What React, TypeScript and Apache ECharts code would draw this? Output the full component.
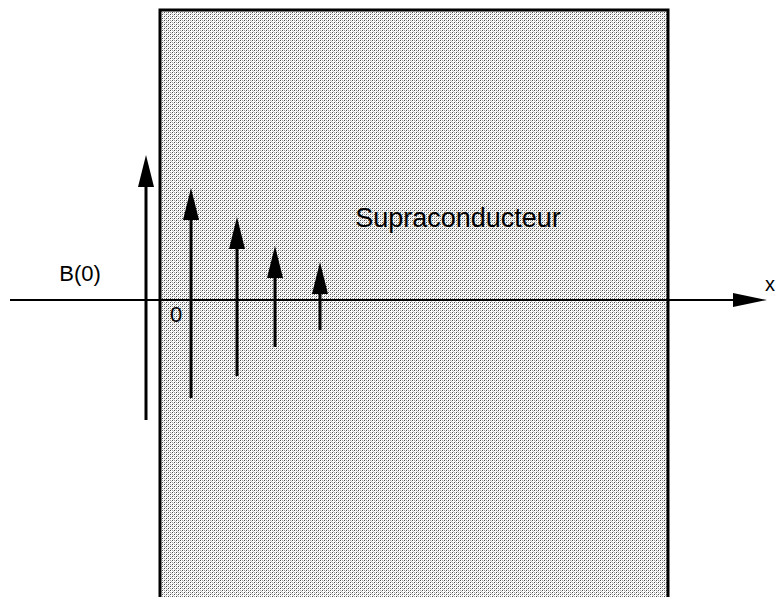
import React, { useEffect, useRef } from "react";
import * as echarts from "echarts";

// Field arrows: position along x (unit = depth) and extent above / below the axis
const arrowX = [-1.4, 3.1, 7.7, 11.5, 16.0];
const arrowTop = [14.5, 11.2, 8.3, 5.4, 3.8];
const arrowBottom = [-12.0, -9.8, -7.6, -4.7, -3.0];

// Superconductor block: [left, top, right, bottom]
const blockBounds = [0, 29, 50.8, -31];

// Horizontal x axis: [start, end, y]
const axisLine = [-15, 60.7, 0];

// Labels: text, x, y, align
const labelTexts = ["B(0)", "0", "Supraconducteur", "x"];
const labelX = [-8.0, 1.6, 29.8, 61.5];
const labelY = [2.7, -1.4, 8.2, 1.6];
const labelSizes = [22, 22, 27, 20];
const labelAlign = ["center", "center", "center", "right"];

function makePattern(): HTMLCanvasElement {
  const c = document.createElement("canvas");
  c.width = 4;
  c.height = 4;
  const ctx = c.getContext("2d")!;
  ctx.fillStyle = "#ffffff";
  ctx.fillRect(0, 0, 4, 4);
  const px = (x: number, y: number, col: string) => {
    ctx.fillStyle = col;
    ctx.fillRect(x, y, 1, 1);
  };
  px(0, 0, "#4a4a4a");
  px(2, 2, "#4a4a4a");
  px(2, 0, "#a0a0a0");
  px(0, 2, "#a0a0a0");
  px(3, 1, "#c4c4c4");
  px(1, 3, "#c4c4c4");
  return c;
}

export default function App() {
  const ref = useRef<HTMLDivElement>(null);
  useEffect(() => {
    if (!ref.current) return;
    const chart = echarts.init(ref.current, null, { renderer: "svg" });
    const pattern = makePattern();
    const option: any = {
      animation: false,
      backgroundColor: "#ffffff",
      grid: { left: 0, right: 0, top: 0, bottom: 0 },
      xAxis: { type: "value", min: -16, max: 61.6, show: false },
      yAxis: { type: "value", min: -29.7, max: 30, show: false },
      series: [
        {
          type: "custom",
          z: 1,
          data: [blockBounds],
          renderItem: (params: any, api: any) => {
            const p1 = api.coord([api.value(0), api.value(1)]);
            const p2 = api.coord([api.value(2), api.value(3)]);
            return {
              type: "rect",
              shape: { x: p1[0], y: p1[1], width: p2[0] - p1[0], height: p2[1] - p1[1] },
              style: {
                fill: { image: pattern, repeat: "repeat" },
                stroke: "#000",
                lineWidth: 3,
              },
            };
          },
        },
        {
          type: "custom",
          z: 2,
          data: [axisLine],
          renderItem: (params: any, api: any) => {
            const a = api.coord([api.value(0), api.value(2)]);
            const b = api.coord([api.value(1), api.value(2)]);
            return {
              type: "group",
              children: [
                {
                  type: "line",
                  shape: { x1: a[0], y1: a[1], x2: b[0] - 20, y2: b[1] },
                  style: { stroke: "#000", lineWidth: 2 },
                },
                {
                  type: "polygon",
                  shape: { points: [[b[0], b[1]], [b[0] - 34, b[1] - 7], [b[0] - 34, b[1] + 7]] },
                  style: { fill: "#000" },
                },
              ],
            };
          },
        },
        {
          type: "custom",
          z: 3,
          data: arrowX.map((x, i) => [x, arrowTop[i], arrowBottom[i]]),
          renderItem: (params: any, api: any) => {
            const t = api.coord([api.value(0), api.value(1)]);
            const b = api.coord([api.value(0), api.value(2)]);
            return {
              type: "group",
              children: [
                {
                  type: "line",
                  shape: { x1: t[0], y1: t[1] + 20, x2: b[0], y2: b[1] },
                  style: { stroke: "#000", lineWidth: 3 },
                },
                {
                  type: "polygon",
                  shape: { points: [[t[0], t[1]], [t[0] - 8, t[1] + 32], [t[0] + 8, t[1] + 32]] },
                  style: { fill: "#000" },
                },
              ],
            };
          },
        },
        {
          type: "custom",
          z: 4,
          data: labelTexts.map((_, i) => [labelX[i], labelY[i]]),
          renderItem: (params: any, api: any) => {
            const i = params.dataIndex;
            const p = api.coord([api.value(0), api.value(1)]);
            return {
              type: "text",
              x: p[0],
              y: p[1],
              style: {
                text: labelTexts[i],
                fill: "#000",
                font: `${labelSizes[i]}px "Liberation Sans", Arial, sans-serif`,
                align: labelAlign[i],
                verticalAlign: "middle",
              },
            };
          },
        },
      ],
    };
    chart.setOption(option);
    return () => chart.dispose();
  }, []);
  return (
    <div
      ref={ref}
      style={{ position: "absolute", left: 0, top: 0, width: 776, height: 597 }}
    />
  );
}
